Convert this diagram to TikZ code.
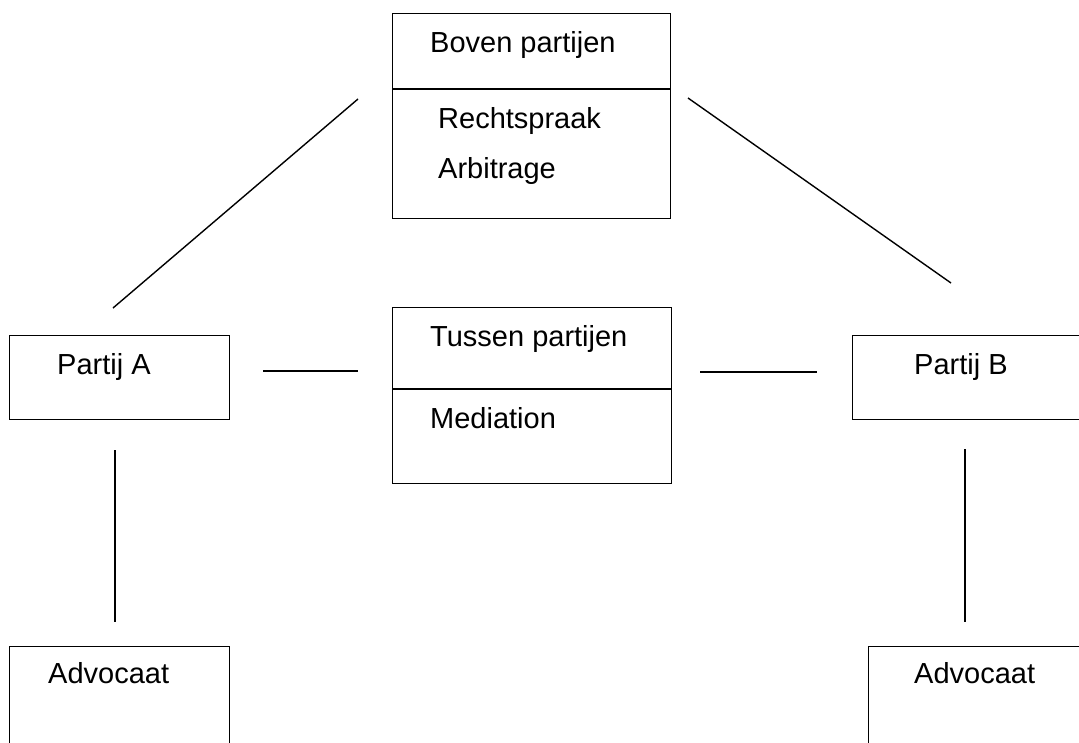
\documentclass[tikz,border=0pt]{standalone}
\usepackage{fontspec}
\setmainfont{Liberation Sans}
\begin{document}
\begin{tikzpicture}[x=1pt,y=-1pt,
  box/.style={draw, line width=1.4pt, rectangle, inner sep=0pt, anchor=north west},
  lbl/.style={anchor=base west, inner sep=0pt, font=\fontsize{29}{34}\selectfont},
  conn/.style={line width=1.4pt}]
\useasboundingbox (0,0) rectangle (1079,742);
\clip (0,0) rectangle (1079,742);
% boxes
\node[box, minimum width=278pt, minimum height=205pt] (boven) at (392,13) {};
\node[box, minimum width=279pt, minimum height=176pt] (tussen) at (392,307) {};
\node[box, minimum width=220pt, minimum height=84pt] (partijA) at (9,335) {};
\node[box, minimum width=248pt, minimum height=84pt] (partijB) at (852,335) {};
\node[box, minimum width=220pt, minimum height=114pt] (advA) at (9,646) {};
\node[box, minimum width=232pt, minimum height=114pt] (advB) at (868,646) {};
% dividers
\draw[conn] (boven.west |- 0,89) -- (boven.east |- 0,89);
\draw[conn] (tussen.west |- 0,389) -- (tussen.east |- 0,389);
% labels
\node[lbl] (tBoven) at (430,52) {Boven partijen};
\node[lbl] (tRecht) at (438,128) {Rechtspraak};
\node[lbl] (tArbi) at (438,178) {Arbitrage};
\node[lbl] (tTussen) at (430,346) {Tussen partijen};
\node[lbl] (tMed) at (430,428) {Mediation};
\node[lbl] (tA) at (57,374) {Partij A};
\node[lbl] (tB) at (914,374) {Partij B};
\node[lbl] (tAdvA) at (48,683) {Advocaat};
\node[lbl] (tAdvB) at (914,683) {Advocaat};
% connector end points
\coordinate (d1a) at (113,308); \coordinate (d1b) at (358,99);
\coordinate (d2a) at (688,98);  \coordinate (d2b) at (951,283);
\coordinate (h1a) at (263,371); \coordinate (h1b) at (358,371);
\coordinate (h2a) at (700,372); \coordinate (h2b) at (817,372);
\coordinate (v1a) at (115,450); \coordinate (v1b) at (115,622);
\coordinate (v2a) at (965,449); \coordinate (v2b) at (965,622);
\draw[conn] (d1a) -- (d1b);
\draw[conn] (d2a) -- (d2b);
\draw[conn] (h1a) -- (h1b);
\draw[conn] (h2a) -- (h2b);
\draw[conn] (v1a) -- (v1b);
\draw[conn] (v2a) -- (v2b);
\end{tikzpicture}
\end{document}
